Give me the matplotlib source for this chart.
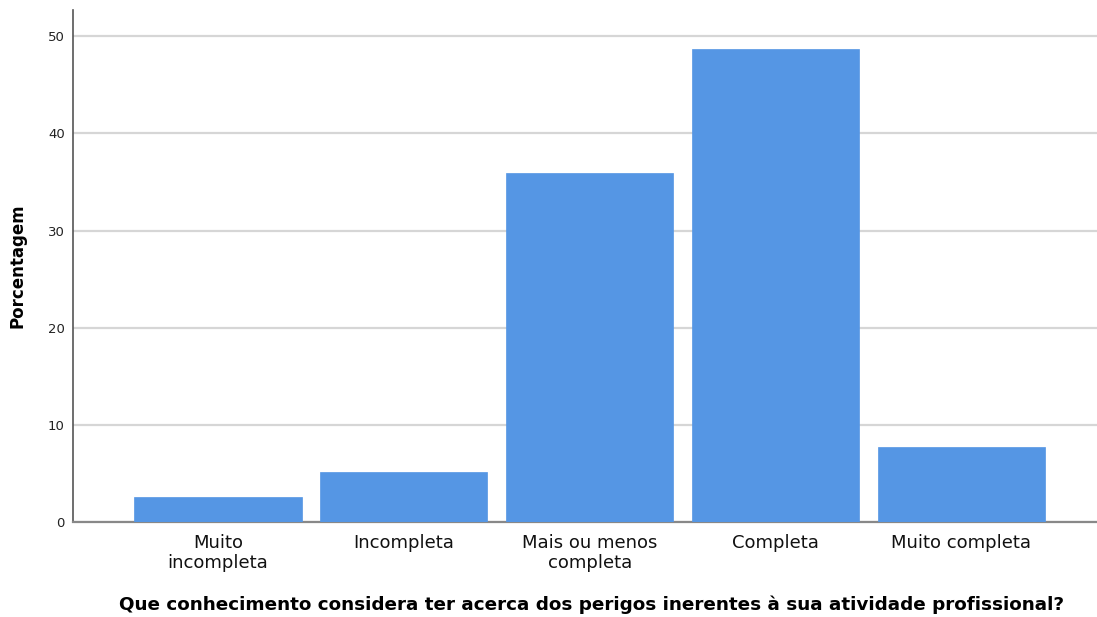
import matplotlib
matplotlib.use("Agg")
import matplotlib.pyplot as plt

categories = ["Muito\nincompleta", "Incompleta", "Mais ou menos\ncompleta", "Completa", "Muito completa"]
values = [2.56, 5.13, 35.90, 48.72, 7.69]
yticks = [0, 10, 20, 30, 40, 50]

fig = plt.figure(figsize=(10.97, 6.17), dpi=100)
ax = fig.add_axes([73/1097, 1 - 522/617, 1 - 73/1097, (522 - 10)/617])

x = list(range(len(categories)))
ax.bar(x, values, width=0.9, color="#5596E4", edgecolor="#5596E4", linewidth=0.5, zorder=3)

ax.set_xlim(-0.78, 4.73)
ax.set_ylim(0, 52.7)
ax.set_yticks(yticks)
ax.set_yticklabels([str(t) for t in yticks], fontsize=9.5, color="#222222")
ax.yaxis.grid(True, color="#D6D6D6", linewidth=1.6, zorder=0)
ax.set_xticks(x)
ax.set_xticklabels(categories, fontsize=13, color="#111111", linespacing=1.12)
ax.tick_params(axis="x", length=0, pad=9)
ax.tick_params(axis="y", length=0, pad=6)

for s in ["top", "right"]:
    ax.spines[s].set_visible(False)
ax.spines["left"].set_color("#555555")
ax.spines["left"].set_linewidth(1.2)
ax.spines["bottom"].set_color("#888888")
ax.spines["bottom"].set_linewidth(1.6)

ax.set_ylabel("Porcentagem", fontsize=12, fontweight="bold")
ax.yaxis.set_label_coords(-(73 - 18) / 1024, 0.5)
ax.yaxis.label.set_ha("center")
ax.yaxis.label.set_va("center")
ax.set_xlabel("Que conhecimento considera ter acerca dos perigos inerentes à sua atividade profissional?",
              fontsize=13.2, fontweight="bold")
ax.xaxis.set_label_coords((592 - 73) / (1097 - 73), -(605 - 522) / 512, transform=ax.transAxes)
ax.xaxis.label.set_va("center")

fig.savefig("out.png", dpi=100)
